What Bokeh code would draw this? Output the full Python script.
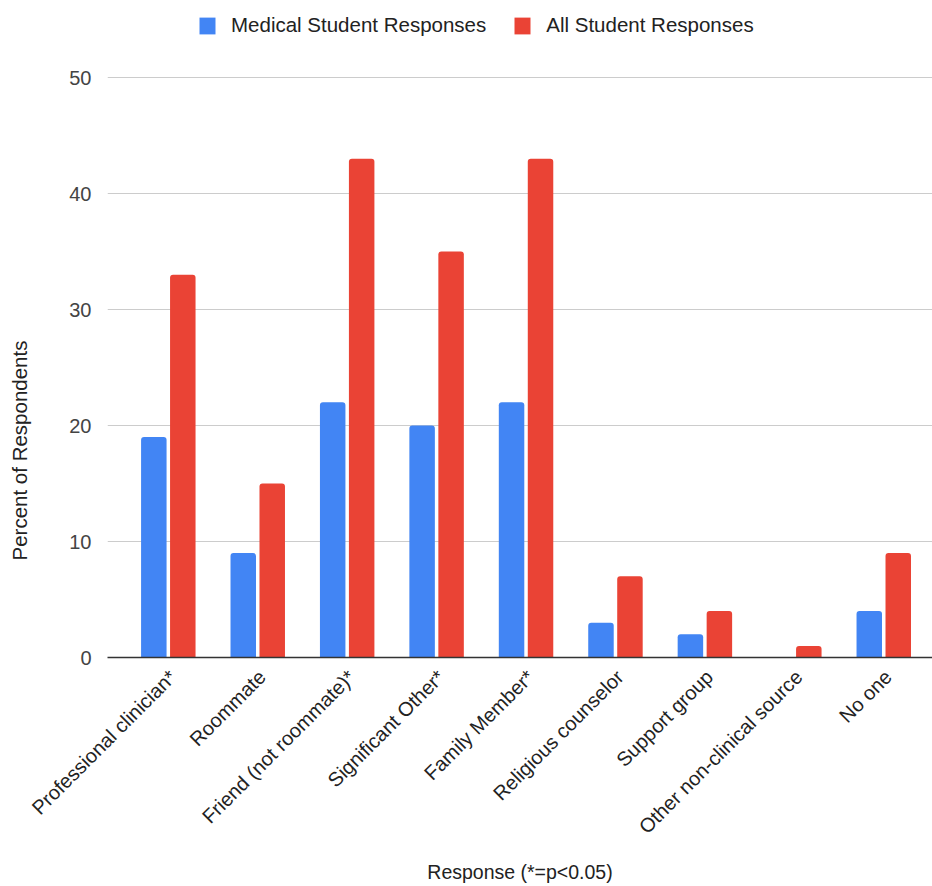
import numpy as np
from bokeh.plotting import figure
from bokeh.models import (ColumnDataSource, Range1d, FixedTicker, Legend, LegendItem,
                          Title)
from bokeh.embed import file_html
from bokeh.resources import INLINE

# Survey data: who respondents turned to (percent of respondents)
categories = ["Professional clinician*", "Roommate", "Friend (not roommate)*",
              "Significant Other*", "Family Member*", "Religious counselor",
              "Support group", "Other non-clinical source", "No one"]
medical_students = [19, 9, 22, 20, 22, 3, 2, 0, 4]
all_students = [33, 15, 43, 35, 43, 7, 4, 1, 9]
y_ticks = [0, 10, 20, 30, 40, 50]

BLUE = "#4285F4"
RED = "#EA4335"
FONT = "Liberation Sans"

idx = np.arange(len(categories))
offset = 0.162
bar_w = 0.285

src = ColumnDataSource(dict(
    x_med=idx - offset,
    x_all=idx + offset,
    med=medical_students,
    all=all_students,
))

# frame reaches the top of the canvas so the legend can sit above the 50 line
p = figure(width=932, height=886, output_backend="svg", toolbar_location=None,
           x_range=Range1d(-0.68, 8.545), y_range=Range1d(0, 56.638),
           min_border_left=107, min_border_right=0, min_border_top=0,
           min_border_bottom=229)
p.outline_line_color = None
p.background_fill_color = "white"
p.border_fill_color = "white"

r_med = p.vbar(x="x_med", top="med", width=bar_w, source=src, color=BLUE,
               line_color=None, border_radius=(3, 3, 0, 0))
r_all = p.vbar(x="x_all", top="all", width=bar_w, source=src, color=RED,
               line_color=None, border_radius=(3, 3, 0, 0))

# grid
p.xgrid.grid_line_color = None
p.ygrid.grid_line_color = "#cccccc"
p.ygrid.grid_line_width = 1
p.ygrid.ticker = FixedTicker(ticks=y_ticks)

# y axis
p.yaxis.ticker = FixedTicker(ticks=y_ticks)
p.yaxis.axis_line_color = None
p.yaxis.major_tick_line_color = None
p.yaxis.minor_tick_line_color = None
p.yaxis.major_label_text_font = FONT
p.yaxis.major_label_text_font_size = "20px"
p.yaxis.major_label_text_color = "#444444"
p.yaxis.major_label_standoff = 10

# x axis: slanted category names
label_pos = [float(i) + 0.05 for i in idx]
p.xaxis.ticker = FixedTicker(ticks=label_pos)
p.xaxis.major_label_overrides = {x: c for x, c in zip(label_pos, categories)}
p.xaxis.major_label_orientation = np.pi / 4
p.xaxis.axis_line_color = "#333333"
p.xaxis.axis_line_width = 1.5
p.xaxis.major_tick_line_color = None
p.xaxis.minor_tick_line_color = None
p.xaxis.major_label_text_font = FONT
p.xaxis.major_label_text_font_size = "20px"
p.xaxis.major_label_text_color = "#222222"
p.xaxis.major_label_standoff = 10
p.xaxis.axis_label = "Response (*=p<0.05)"
p.xaxis.axis_label_text_font = FONT
p.xaxis.axis_label_text_font_size = "19.5px"
p.xaxis.axis_label_text_font_style = "normal"
p.xaxis.axis_label_text_color = "#222222"
p.xaxis.axis_label_standoff = 13

# spacer between the y tick labels and the y title
p.add_layout(Title(text=" ", text_font=FONT, text_font_size="20px", standoff=7), "left")

# y axis title
p.add_layout(Title(text="Percent of Respondents", align="left", offset=97,
                   text_font=FONT, text_font_size="20.5px",
                   text_font_style="normal", text_color="#222222"), "left")

# legend across the top
legend = Legend(items=[LegendItem(label="Medical Student Responses", renderers=[r_med]),
                       LegendItem(label="All Student Responses", renderers=[r_all])],
                orientation="horizontal", location=(90, 620),
                glyph_width=20, glyph_height=21, label_standoff=14, spacing=26,
                padding=0, margin=0, border_line_color=None,
                background_fill_alpha=0,
                label_text_font=FONT, label_text_font_size="20.5px",
                label_text_color="#222222")
p.add_layout(legend)

open("out.html", "w").write(file_html(p, INLINE))
